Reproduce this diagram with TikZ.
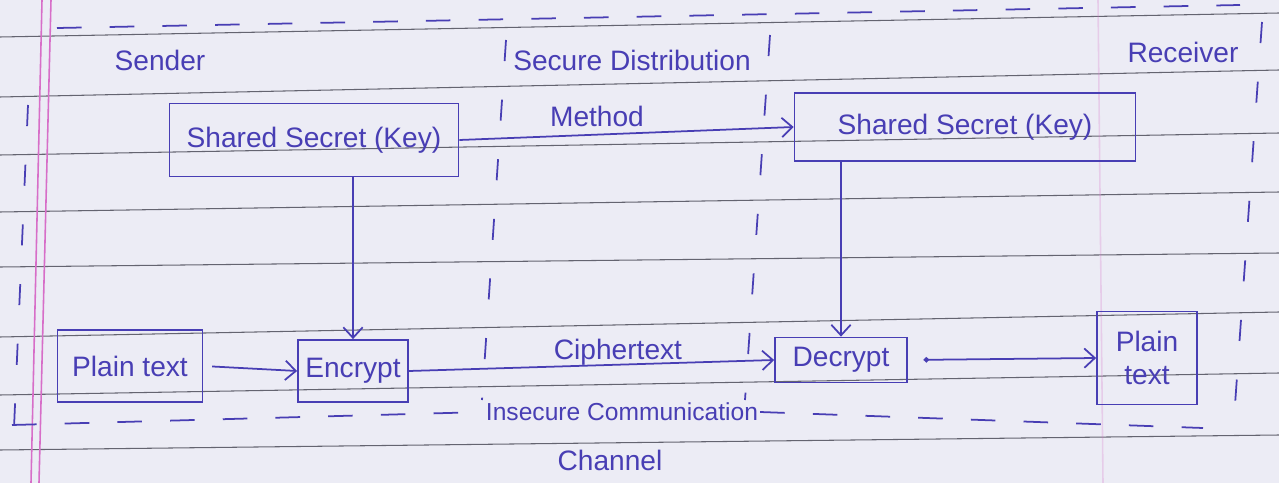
\documentclass[tikz,border=0pt]{standalone}
\usepackage{fontspec}
\setmainfont{Liberation Sans}
\usetikzlibrary{arrows.meta}
\definecolor{paper}{RGB}{236,236,245}
\definecolor{ink}{RGB}{72,62,180}
\definecolor{rulecol}{RGB}{100,100,112}
\definecolor{margincol}{RGB}{215,110,200}
\begin{document}
\begin{tikzpicture}[x=0.02cm,y=-0.02cm,
  box/.style={draw=ink, line width=1pt, text=ink, font=\fontsize{16}{19}\selectfont, inner sep=2pt, align=center},
  lab/.style={text=ink, font=\fontsize{16}{19}\selectfont, inner sep=1pt},
  conn/.style={draw=ink, line width=1pt, -{Straight Barb[length=6pt,width=11pt]}},
  zone/.style={draw=ink, line width=1pt, dash pattern=on 14pt off 16pt},
  divider/.style={draw=ink, line width=1pt, dash pattern=on 12pt off 22pt},
  ruled/.style={draw=rulecol, line width=0.6pt},
  marginline/.style={draw=margincol, line width=0.9pt}]
\fill[paper] (0,0) rectangle (1279,483);
\useasboundingbox (0,0) rectangle (1279,483);
% notebook paper
\foreach \a/\b in {37/13,97/70,155/133,212/192,267/253,337/312,395/373,450/435}
  \draw[ruled] (0,\a) -- (1279,\b);
\draw[marginline] (42,0) -- (31,483);
\draw[marginline] (51,0) -- (39,483);
\draw[marginline, opacity=0.25] (1098,0) -- (1103,483);
% nodes
\node[box, minimum width=5.78cm, minimum height=1.46cm] (keyL) at (314,140) {Shared Secret (Key)};
\node[box, minimum width=6.82cm, minimum height=1.36cm] (keyR) at (965,127) {Shared Secret (Key)};
\node[box, minimum width=2.9cm, minimum height=1.44cm] (plainL) at (130,366) {Plain text};
\node[box, minimum width=2.2cm, minimum height=1.24cm] (enc) at (353,371) {Encrypt};
\node[box, minimum width=2.64cm, minimum height=0.9cm] (dec) at (841,360) {Decrypt};
\node[box, minimum width=2.0cm, minimum height=1.86cm] (plainR) at (1147,358) {Plain\\text};
% labels
\node[lab] (sender) at (160,60) {Sender};
\node[lab] (sdm) at (632,60) {Secure Distribution};
\node[lab] (method) at (597,116) {Method};
\node[lab] (recv) at (1183,52) {Receiver};
\node[lab] (cipher) at (618,352) {Ciphertext};
\node[lab, font=\fontsize{14}{17}\selectfont] (insec) at (622,412) {Insecure Communication};
\node[lab] (chan) at (610,460) {Channel};
% zones
\coordinate (tl) at (57,28);
\coordinate (tr) at (1240,5);
\coordinate (bl) at (12,425);
\coordinate (br) at (1203,428);
\draw[zone] (tl) -- (tr);
\draw[zone] (bl) -- (insec.west);
\draw[zone] (insec.east) -- (br);
\draw[divider] (28,105) -- (14,428);
\draw[divider] (1262,22) -- (1235,405);
\draw[divider] (506,40) -- (482,400);
\draw[divider] (770,35) -- (745,400);
% connectors
\draw[conn] (keyL.east) -- (keyR.west);
\draw[conn] (enc.north |- keyL.south) -- (enc.north);
\draw[conn, shorten <=5pt] (plainL.east) -- (enc.west);
\draw[conn] (enc.east) -- (dec.west);
\draw[conn] (dec.north |- keyR.south) -- (dec.north);
\draw[draw=ink, line width=1pt, {Circle[length=3pt]}-{Straight Barb[length=6pt,width=11pt]}, shorten <=9pt] (dec.east) -- (plainR.west);
\end{tikzpicture}
\end{document}
